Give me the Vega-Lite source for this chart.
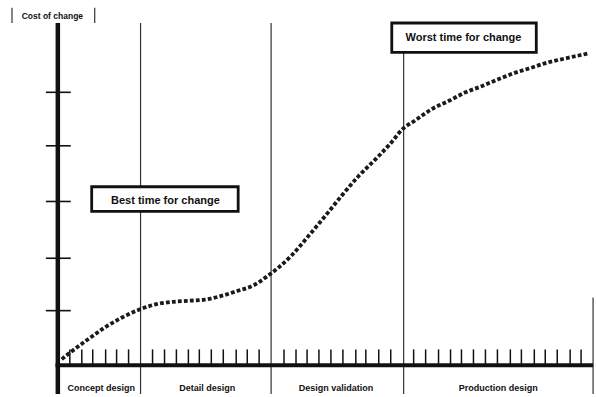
{
  "$schema": "https://vega.github.io/schema/vega-lite/v6.json",
  "width": 596,
  "height": 397,
  "autosize": {"type": "fit", "contains": "padding"},
  "padding": 0,
  "background": "white",
  "config": {"view": {"stroke": null}},
  "datasets": {
    "curve": [
      {"t": 0.34, "cost": 0.11}, {"t": 0.86, "cost": 0.2}, {"t": 2.57, "cost": 0.47}, {"t": 4.03, "cost": 0.69},
      {"t": 5.48, "cost": 0.87}, {"t": 7.02, "cost": 1.02}, {"t": 8.31, "cost": 1.11}, {"t": 9.77, "cost": 1.16},
      {"t": 11.14, "cost": 1.18}, {"t": 12.6, "cost": 1.2}, {"t": 14.05, "cost": 1.27}, {"t": 15.42, "cost": 1.36},
      {"t": 16.88, "cost": 1.47}, {"t": 18.0, "cost": 1.63}, {"t": 20.13, "cost": 2.02}, {"t": 21.59, "cost": 2.38},
      {"t": 23.04, "cost": 2.75}, {"t": 24.41, "cost": 3.11}, {"t": 25.87, "cost": 3.47}, {"t": 27.33, "cost": 3.78},
      {"t": 28.7, "cost": 4.09}, {"t": 29.55, "cost": 4.31}, {"t": 30.75, "cost": 4.49}, {"t": 32.12, "cost": 4.69},
      {"t": 33.58, "cost": 4.84}, {"t": 35.04, "cost": 5.0}, {"t": 36.41, "cost": 5.11}, {"t": 37.86, "cost": 5.24},
      {"t": 39.32, "cost": 5.36}, {"t": 40.69, "cost": 5.45}, {"t": 42.15, "cost": 5.55}, {"t": 43.6, "cost": 5.62},
      {"t": 45.57, "cost": 5.71}
    ],
    "seps": [
      {"t": 7.11, "bottom": -0.527, "top": 6.27}, {"t": 18.33, "bottom": -0.527, "top": 6.27}, {"t": 29.72, "bottom": -0.527, "top": 5.73}, {"t": 46.0, "bottom": -0.527, "top": 1.24},
      {"t": -3.94, "bottom": 6.27, "top": 6.55}, {"t": 3.17, "bottom": 6.27, "top": 6.55}
    ],
    "yticks": [{"cost": 1.0}, {"cost": 1.96}, {"cost": 3.0}, {"cost": 4.02}, {"cost": 5.0}],
    "xticks": [
      {"t": 1.03}, {"t": 2.06}, {"t": 3.0}, {"t": 4.11}, {"t": 5.05}, {"t": 6.08},
      {"t": 8.14}, {"t": 9.17}, {"t": 10.19}, {"t": 11.22}, {"t": 12.16}, {"t": 13.19}, {"t": 14.22}, {"t": 15.33}, {"t": 16.28}, {"t": 17.3},
      {"t": 19.44}, {"t": 20.47}, {"t": 21.42}, {"t": 22.44}, {"t": 23.47}, {"t": 24.5}, {"t": 25.61}, {"t": 26.47}, {"t": 27.58}, {"t": 28.61},
      {"t": 30.58}, {"t": 31.61}, {"t": 32.72}, {"t": 33.75}, {"t": 34.69}, {"t": 35.72}, {"t": 36.75}, {"t": 37.78}, {"t": 38.89}, {"t": 39.84},
      {"t": 40.95}, {"t": 41.89}, {"t": 42.92}, {"t": 44.03}, {"t": 44.97}
    ],
    "boxes": [
      {"label": "Best  time for change", "x1": 2.91, "x2": 15.5, "y1": 2.82, "y2": 3.27, "tx": 9.25, "ty": 3.0},
      {"label": "Worst  time for change", "x1": 28.7, "x2": 41.12, "y1": 5.73, "y2": 6.27, "tx": 34.86, "ty": 5.99}
    ],
    "phases": [
      {"phase": "Concept design", "mid": 3.73, "cost": -0.42},
      {"phase": "Detail design", "mid": 12.85, "cost": -0.42},
      {"phase": "Design validation", "mid": 23.9, "cost": -0.42},
      {"phase": "Production design", "mid": 37.86, "cost": -0.42}
    ],
    "title": [{"label": "Cost of change", "t": -0.47, "cost": 6.4}]
  },
  "layer": [
    {
      "data": {"name": "seps"},
      "mark": {"type": "rule", "color": "#333", "strokeWidth": 1.2},
      "encoding": {
        "x": {"field": "t", "type": "quantitative", "scale": {"domain": [-4.97, 46.08], "nice": false, "zero": false}, "axis": null},
        "y": {"field": "bottom", "type": "quantitative", "scale": {"domain": [-0.527, 6.691], "nice": false, "zero": false}, "axis": null},
        "y2": {"field": "top"}
      }
    },
    {
      "data": {"name": "seps"},
      "transform": [{"filter": "datum.t == 7.11"}],
      "mark": {"type": "rule", "color": "#111", "strokeWidth": 4.5},
      "encoding": {
        "x": {"datum": 0, "type": "quantitative"},
        "y": {"field": "bottom", "type": "quantitative"},
        "y2": {"field": "top"}
      }
    },
    {
      "data": {"name": "seps"},
      "transform": [{"filter": "datum.t == 7.11"}],
      "mark": {"type": "rule", "color": "#111", "strokeWidth": 4},
      "encoding": {
        "x": {"datum": -0.2, "type": "quantitative"},
        "x2": {"datum": 46.0},
        "y": {"datum": 0, "type": "quantitative"}
      }
    },
    {
      "data": {"name": "yticks"},
      "mark": {"type": "rule", "color": "#111", "strokeWidth": 1.6},
      "encoding": {
        "x": {"datum": -1.03, "type": "quantitative"},
        "x2": {"datum": 1.11},
        "y": {"field": "cost", "type": "quantitative"}
      }
    },
    {
      "data": {"name": "xticks"},
      "mark": {"type": "rule", "color": "#111", "strokeWidth": 1.5},
      "encoding": {
        "x": {"field": "t", "type": "quantitative"},
        "y": {"datum": 0, "type": "quantitative"},
        "y2": {"datum": 0.29}
      }
    },
    {
      "data": {"name": "curve"},
      "mark": {"type": "line", "interpolate": "monotone", "color": "#1a1a1a", "strokeWidth": 3.8, "strokeDash": [3.8, 2.2], "strokeCap": "butt"},
      "encoding": {
        "x": {"field": "t", "type": "quantitative"},
        "y": {"field": "cost", "type": "quantitative"}
      }
    },
    {
      "data": {"name": "boxes"},
      "mark": {"type": "rect", "fill": "white", "stroke": "#111", "strokeWidth": 2.8},
      "encoding": {
        "x": {"field": "x1", "type": "quantitative"},
        "x2": {"field": "x2"},
        "y": {"field": "y1", "type": "quantitative"},
        "y2": {"field": "y2"}
      }
    },
    {
      "data": {"name": "boxes"},
      "mark": {"type": "text", "font": "Liberation Sans", "fontSize": 11, "fontWeight": "bold", "color": "#111", "align": "center", "baseline": "middle"},
      "encoding": {
        "x": {"field": "tx", "type": "quantitative"},
        "y": {"field": "ty", "type": "quantitative"},
        "text": {"field": "label"}
      }
    },
    {
      "data": {"name": "phases"},
      "mark": {"type": "text", "font": "Liberation Sans", "fontSize": 9, "fontWeight": "bold", "color": "#111", "align": "center", "baseline": "middle"},
      "encoding": {
        "x": {"field": "mid", "type": "quantitative"},
        "y": {"field": "cost", "type": "quantitative"},
        "text": {"field": "phase"}
      }
    },
    {
      "data": {"name": "title"},
      "mark": {"type": "text", "font": "Liberation Sans", "fontSize": 8.5, "fontWeight": "bold", "color": "#111", "align": "center", "baseline": "middle"},
      "encoding": {
        "x": {"field": "t", "type": "quantitative"},
        "y": {"field": "cost", "type": "quantitative"},
        "text": {"field": "label"}
      }
    }
  ]
}
